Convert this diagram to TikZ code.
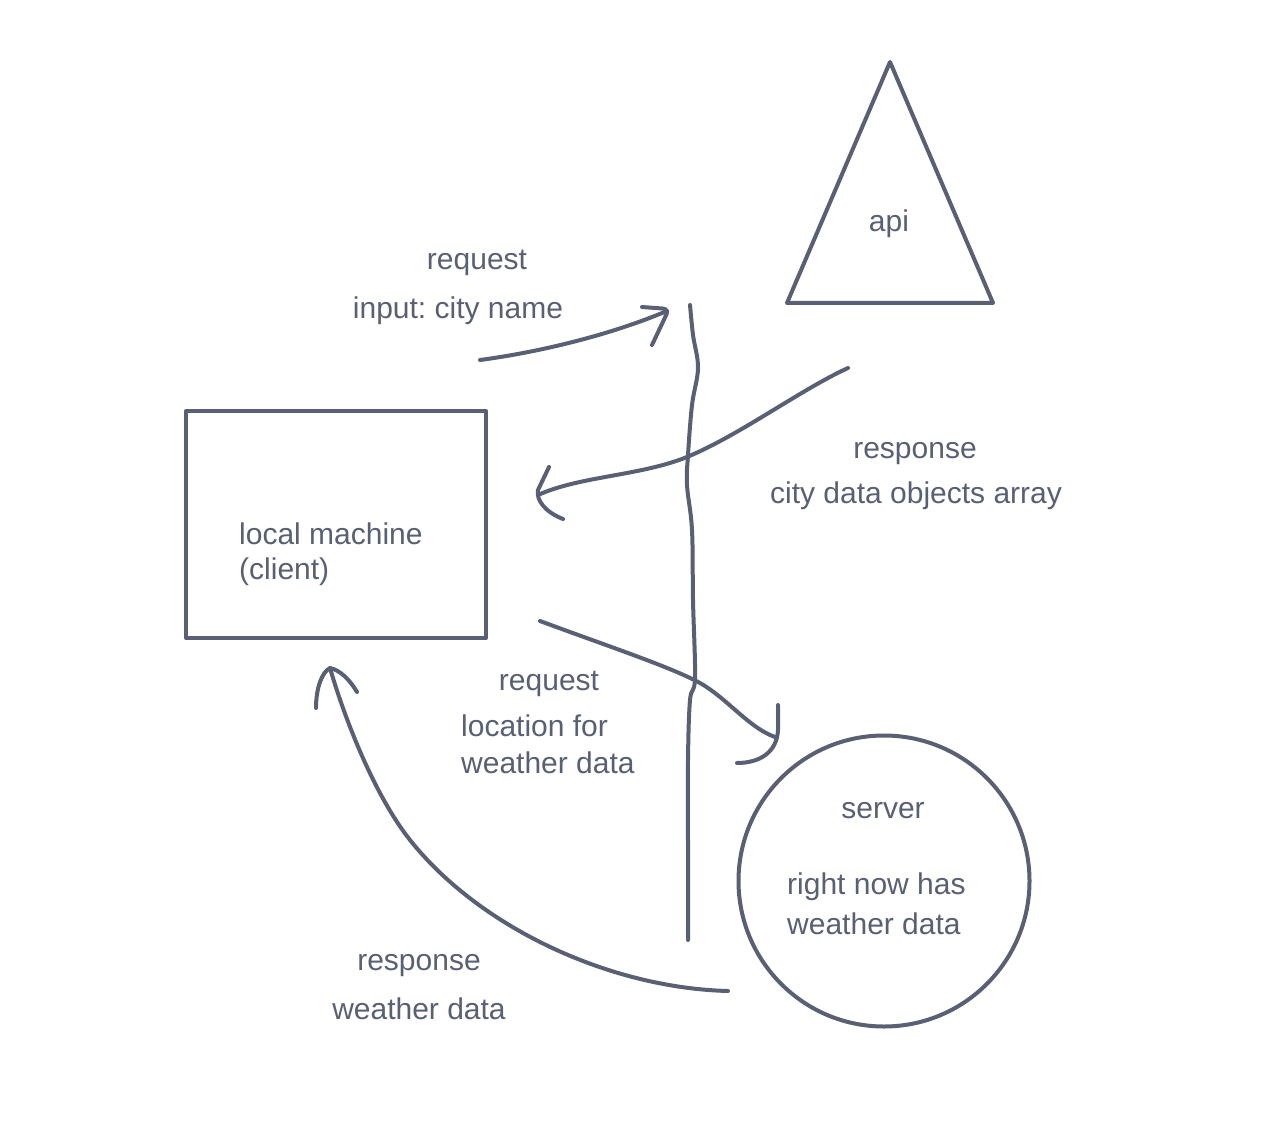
\documentclass[tikz,border=0pt]{standalone}
\usepackage{fontspec}
\setmainfont{Liberation Sans}
\definecolor{ink}{HTML}{5A6074}
\frenchspacing
\begin{document}
\begin{tikzpicture}[x=1pt,y=-1pt,
  stroke/.style={draw=ink, line width=4pt, line cap=round, line join=round},
  lbl/.style={text=ink, font=\fontsize{30}{36}\selectfont\frenchspacing, inner sep=0pt}]
\useasboundingbox[fill=white] (0,0) rectangle (1273,1139);

% shapes
\node[stroke, rectangle, minimum width=300pt, minimum height=227pt, inner sep=0pt] (client) at (336,524.5) {};
\node[stroke, circle, minimum size=291pt, inner sep=0pt] (server) at (884,881) {};
\coordinate (apiTop) at (890,62);
\coordinate (apiR) at (993,303);
\coordinate (apiL) at (787,303);
\draw[stroke] (apiTop) -- (apiR) -- (apiL) -- cycle;

% divider
\draw[stroke] plot[smooth, tension=0.6] coordinates {(690,305) (693,335) (698,368) (692,405) (688,455) (687,485) (692,530) (693,600) (695,678) (690,700) (688,760) (688,850) (688,940)};

% labels
\node[lbl] (tApi) at (889,224) {api};
\node[lbl, anchor=west] (tClient1) at (239,534) {local machine};
\node[lbl, anchor=west] (tClient2) at (239,572) {(client)};
\node[lbl] (tServer) at (883,811) {server};
\node[lbl, anchor=west] (tServer1) at (787,887) {right now has};
\node[lbl, anchor=west] (tServer2) at (787,924) {weather data};
\node[lbl] (tReq1a) at (477,263) {request};
\node[lbl] (tReq1b) at (458,311) {input: city name};
\node[lbl] (tRes1a) at (915,454) {response};
\node[lbl] (tRes1b) at (916,496) {city data objects array};
\node[lbl] (tReq2a) at (549,684) {request};
\node[lbl, anchor=west] (tReq2b) at (461,726) {location for};
\node[lbl, anchor=west] (tReq2c) at (461,763) {weather data};
\node[lbl] (tRes2a) at (419,966) {response};
\node[lbl] (tRes2b) at (419,1009) {weather data};

% arrow 1: request city name
\coordinate (a1s) at (480,360);
\coordinate (a1e) at (667,311);
\draw[stroke] (a1s) .. controls (540,352) and (610,335) .. (a1e);
\draw[stroke, rounded corners=6pt] (642,307) -- (669,309) -- (652,345);

% arrow 2: response city data
\coordinate (a2s) at (848,368);
\coordinate (a2m) at (687,457);
\coordinate (a2e) at (538,495);
\draw[stroke] (a2s) .. controls (800,390) and (740,435) .. (a2m) .. controls (640,476) and (580,476) .. (a2e);
\draw[stroke] (549,467) -- (538,490) .. controls (536,500) and (545,512) .. (563,519);

% arrow 3: request location
\coordinate (a3s) at (540,621);
\coordinate (a3m) at (705,686);
\coordinate (a3e) at (775,737);
\draw[stroke] (a3s) .. controls (610,647) and (680,670) .. (a3m) .. controls (730,702) and (750,728) .. (a3e);
\draw[stroke] (778,705) -- (778,730) .. controls (777,752) and (760,763) .. (737,763);

% arrow 4: response weather data
\coordinate (a4s) at (728,991);
\coordinate (a4m) at (410,840);
\coordinate (a4e) at (330,668);
\draw[stroke] (a4s) .. controls (610,988) and (480,928) .. (a4m) .. controls (375,796) and (345,720) .. (a4e);
\draw[stroke] (316,708) .. controls (316,688) and (322,672) .. (330,668) .. controls (340,670) and (350,680) .. (357,692);
\end{tikzpicture}
\end{document}
